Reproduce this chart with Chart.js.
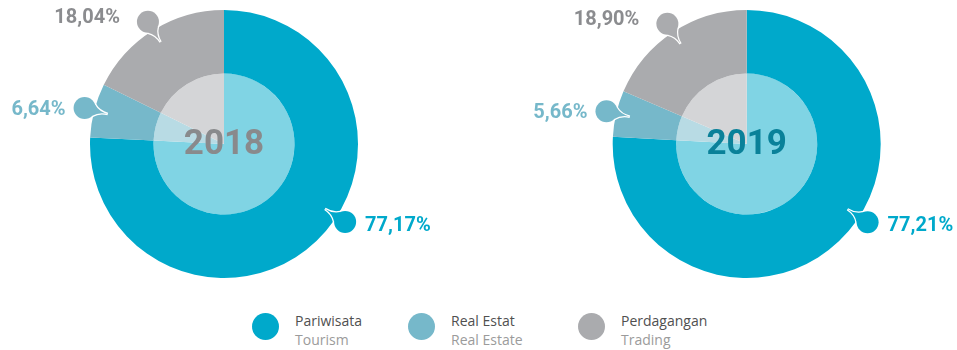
<!DOCTYPE html>
<html>
<head>
<meta charset="utf-8">
<script src="https://cdn.jsdelivr.net/npm/chart.js@4"></script>
<style>
  body { margin: 0; background: #fff; }
  #wrap { position: relative; width: 957px; height: 350px; overflow: hidden; }
  .pie { position: absolute; top: 0; height: 290px; }
  #pie2018 { left: 0; width: 478px; }
  #pie2019 { left: 478px; width: 479px; }
  #legend { position: absolute; left: 252px; top: 311px; display: flex;
            font-family: "Open Sans", sans-serif; font-size: 14px; line-height: 19px; }
  .item { display: flex; align-items: flex-start; }
  .dot { width: 27px; height: 27px; border-radius: 50%; margin-top: 2px; margin-right: 16px; }
  .name { color: #505050; }
  .sub { color: #9b9b9b; }
</style>
</head>
<body>
<div id="wrap">
  <div class="pie" id="pie2018"><canvas id="c2018"></canvas></div>
  <div class="pie" id="pie2019"><canvas id="c2019"></canvas></div>
  <div id="legend"></div>
</div>
<script>
// Komposisi pendapatan per segmen (%)
const categories = ["Pariwisata", "Real Estat", "Perdagangan"];
const categoriesEn = ["Tourism", "Real Estate", "Trading"];
const years = ["2018", "2019"];
const share2018 = [77.17, 6.64, 18.04];
const share2019 = [77.21, 5.66, 18.90];

const outerColors = ["#00a9cb", "#76b8ca", "#aaabae"];
const innerColors = ["#80d4e4", "#b8dbe4", "#d4d5d7"];
const textColors = ["#00a9cb", "#76b8ca", "#8b8c8f"];
const yearColors = ["#898a8c", "#0a8199"];

// posisi gelembung di sepanjang busur (0 = awal, 1 = akhir)
const calloutAnchor = [0.45, 0.5, 0.5];
const calloutGap = [9, 8, 17];
const calloutDy = [4, 2, -4];

function formatPct(v) {
    return v.toFixed(2).replace(".", ",") + "%";
}

// Gelembung + label persentase di tepi tiap irisan
const calloutPlugin = {
    id: "callouts",
    afterDatasetsDraw(chart) {
        const ctx = chart.ctx;
        const meta = chart.getDatasetMeta(0);
        const values = chart.data.datasets[0].data;
        meta.data.forEach((arc, i) => {
            const p = arc.getProps(["x", "y", "startAngle", "endAngle", "outerRadius"], true);
            const a = p.startAngle + calloutAnchor[i] * (p.endAngle - p.startAngle);
            const cos = Math.cos(a), sin = Math.sin(a);
            const r = 11;
            const bx = p.x + cos * (p.outerRadius + 10);
            const by = p.y + sin * (p.outerRadius + 10);
            const tx = p.x + cos * (p.outerRadius - 14);
            const ty = p.y + sin * (p.outerRadius - 14);
            const back = a + Math.PI;
            const spread = 0.55;
            // titik kontrol di sumbu ekor, bikin sisi ekor agak cekung
            const cx = bx + Math.cos(back) * (r + 4);
            const cy = by + Math.sin(back) * (r + 4);

            const tail = new Path2D();
            tail.moveTo(bx + Math.cos(back - spread) * r, by + Math.sin(back - spread) * r);
            tail.quadraticCurveTo(cx, cy, tx, ty);
            tail.quadraticCurveTo(cx, cy, bx + Math.cos(back + spread) * r, by + Math.sin(back + spread) * r);
            tail.closePath();
            const dot = new Path2D();
            dot.arc(bx, by, r, 0, Math.PI * 2);

            ctx.save();
            ctx.strokeStyle = "#fff";
            ctx.lineWidth = 2.5;
            ctx.lineJoin = "miter";
            ctx.stroke(tail);
            ctx.stroke(dot);
            ctx.fillStyle = outerColors[i];
            ctx.fill(tail);
            ctx.fill(dot);

            ctx.font = "bold 20px Roboto";
            ctx.fillStyle = textColors[i];
            ctx.textBaseline = "middle";
            if (cos > 0) {
                ctx.textAlign = "left";
                ctx.fillText(formatPct(values[i]), bx + r + calloutGap[i], by + calloutDy[i]);
            } else {
                ctx.textAlign = "right";
                ctx.fillText(formatPct(values[i]), bx - r - calloutGap[i], by + calloutDy[i]);
            }
            ctx.restore();
        });
    }
};

// Tahun di tengah lingkaran
const centerPlugin = {
    id: "centerYear",
    afterDatasetsDraw(chart, args, opts) {
        const arc = chart.getDatasetMeta(0).data[0];
        const ctx = chart.ctx;
        ctx.save();
        ctx.font = "bold 35px Roboto";
        ctx.fillStyle = opts.color;
        ctx.textAlign = "center";
        ctx.textBaseline = "middle";
        ctx.fillText(opts.text, arc.x, arc.y + 1);
        ctx.restore();
    }
};

function makePie(canvasId, values, yearIdx, padding) {
    new Chart(document.getElementById(canvasId), {
        type: "pie",
        data: {
            labels: categories,
            datasets: [
                { data: values, backgroundColor: outerColors, weight: 63.5 },
                { data: values, backgroundColor: innerColors, weight: 70.5 }
            ]
        },
        options: {
            responsive: true,
            maintainAspectRatio: false,
            animation: false,
            events: [],
            radius: 134,
            borderWidth: 0,
            hoverOffset: 0,
            layout: { padding: padding },
            plugins: {
                legend: { display: false },
                tooltip: { enabled: false },
                centerYear: { text: years[yearIdx], color: yearColors[yearIdx] }
            }
        },
        plugins: [calloutPlugin, centerPlugin]
    });
}

makePie("c2018", share2018, 0, { left: 90, right: 120, top: 10, bottom: 12 });
makePie("c2019", share2019, 1, { left: 134.7, right: 76.3, top: 10, bottom: 12 });

// Legenda
const legend = document.getElementById("legend");
const itemWidths = ["156px", "170px", "auto"];
categories.forEach((name, i) => {
    const item = document.createElement("div");
    item.className = "item";
    item.style.width = itemWidths[i];
    item.innerHTML = '<div class="dot" style="background:' + outerColors[i] + '"></div>' +
        '<div><div class="name">' + name + '</div><div class="sub">' + categoriesEn[i] + '</div></div>';
    legend.appendChild(item);
});
</script>
</body>
</html>
